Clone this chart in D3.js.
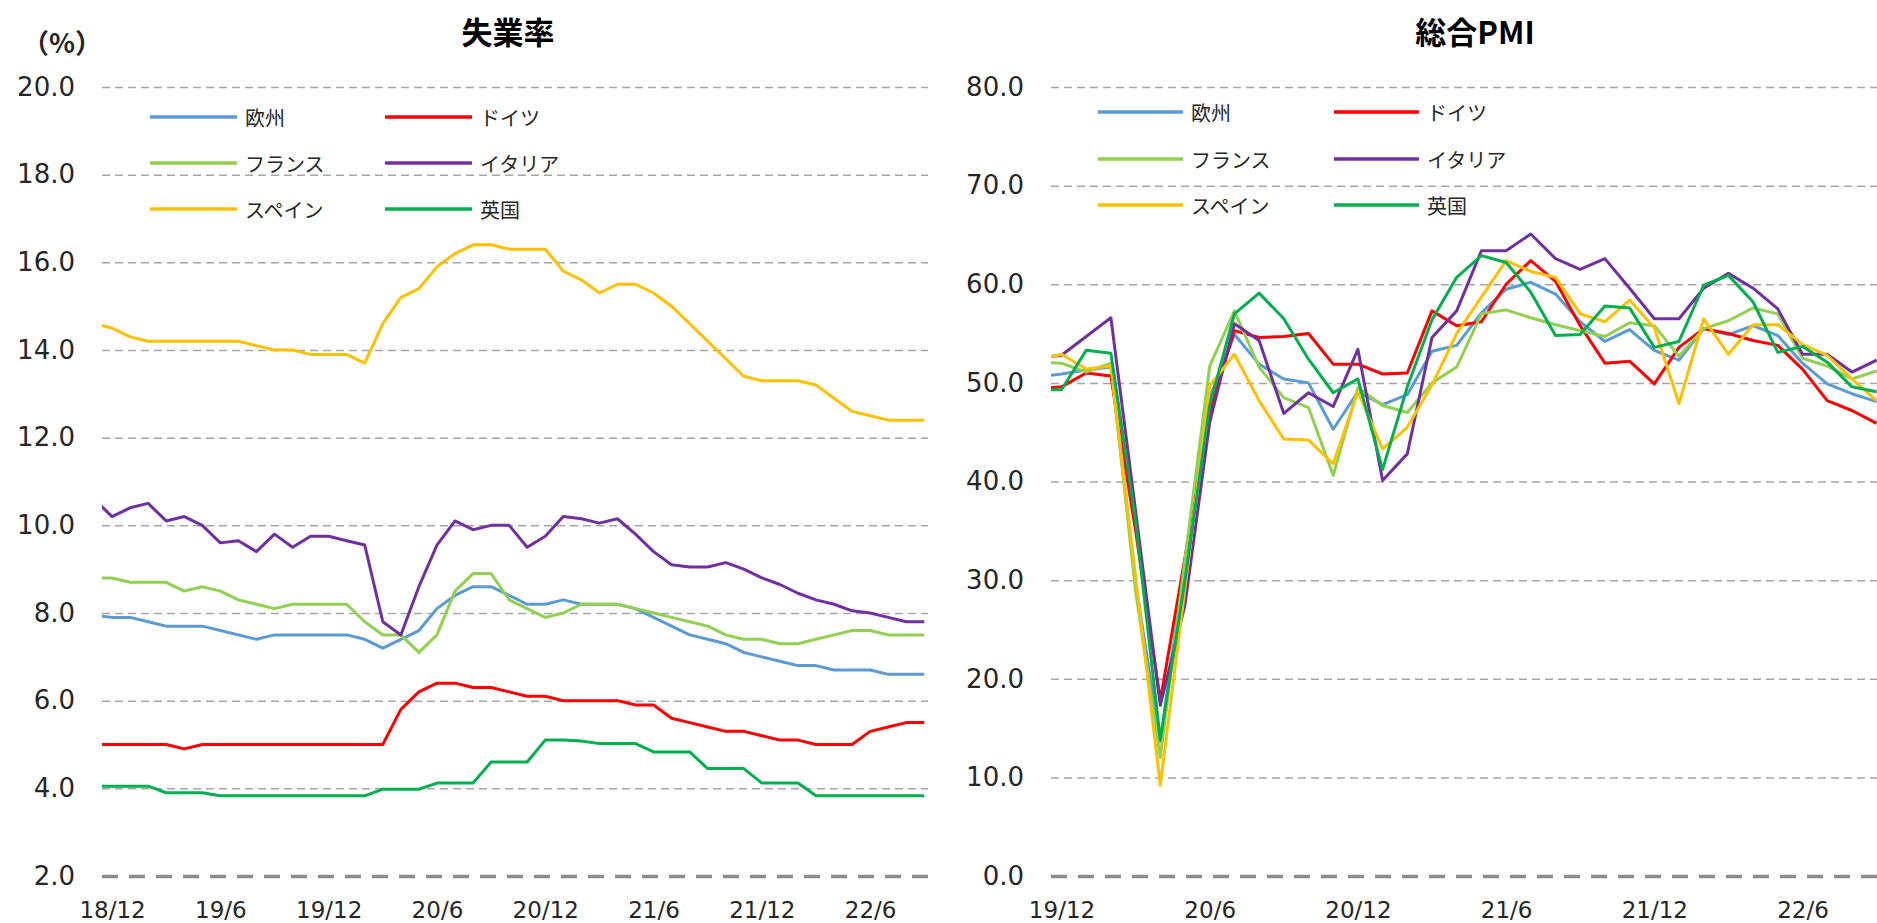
<!DOCTYPE html>
<html>
<head>
<meta charset="utf-8">
<script src="https://cdn.jsdelivr.net/npm/d3@7"></script>
<style>
body{margin:0;background:#fff;}
svg{display:block;}
</style>
</head>
<body>
<svg id="chart" width="1877" height="923"></svg>
<script>
// ---------------- data ----------------
const seriesNames  = ["欧州","ドイツ","フランス","イタリア","スペイン","英国"];
const seriesColors = ["#5B9BD5","#FF0000","#92D050","#7030A0","#FFC000","#00B050"];

// 失業率 (monthly, 18/11 .. 22/9)
const unempMonths = ["18/11","18/12",
 "19/1","19/2","19/3","19/4","19/5","19/6","19/7","19/8","19/9","19/10","19/11","19/12",
 "20/1","20/2","20/3","20/4","20/5","20/6","20/7","20/8","20/9","20/10","20/11","20/12",
 "21/1","21/2","21/3","21/4","21/5","21/6","21/7","21/8","21/9","21/10","21/11","21/12",
 "22/1","22/2","22/3","22/4","22/5","22/6","22/7","22/8","22/9"];
const unempEU = [7.95,7.9,7.9,7.8,7.7,7.7,7.7,7.6,7.5,7.4,7.5,7.5,7.5,7.5,7.5,7.4,7.2,7.4,7.6,8.1,8.4,
 8.6,8.6,8.4,8.2,8.2,8.3,8.2,8.2,8.2,8.1,7.9,7.7,7.5,7.4,7.3,7.1,7.0,6.9,6.8,6.8,6.7,6.7,6.7,6.6,6.6,6.6];
const unempDE = [5.0,5.0,5.0,5.0,5.0,4.9,5.0,5.0,5.0,5.0,5.0,5.0,5.0,5.0,5.0,5.0,5.0,5.8,6.2,6.4,6.4,
 6.3,6.3,6.2,6.1,6.1,6.0,6.0,6.0,6.0,5.9,5.9,5.6,5.5,5.4,5.3,5.3,5.2,5.1,5.1,5.0,5.0,5.0,5.3,5.4,5.5,5.5];
const unempFR = [8.8,8.8,8.7,8.7,8.7,8.5,8.6,8.5,8.3,8.2,8.1,8.2,8.2,8.2,8.2,7.8,7.5,7.5,7.1,7.5,8.5,
 8.9,8.9,8.3,8.1,7.9,8.0,8.2,8.2,8.2,8.1,8.0,7.9,7.8,7.7,7.5,7.4,7.4,7.3,7.3,7.4,7.5,7.6,7.6,7.5,7.5,7.5];
const unempIT = [10.6,10.2,10.4,10.5,10.1,10.2,10.0,9.6,9.65,9.4,9.8,9.5,9.75,9.75,9.65,9.55,7.8,7.5,8.6,9.55,10.1,
 9.9,10.0,10.0,9.5,9.75,10.2,10.15,10.05,10.15,9.8,9.4,9.1,9.05,9.05,9.15,9.0,8.8,8.65,8.45,8.3,8.2,8.05,8.0,7.9,7.8,7.8];
const unempES = [14.6,14.5,14.3,14.2,14.2,14.2,14.2,14.2,14.2,14.1,14.0,14.0,13.9,13.9,13.9,13.7,14.6,15.2,15.4,15.9,16.2,
 16.4,16.4,16.3,16.3,16.3,15.8,15.6,15.3,15.5,15.5,15.3,15.0,14.6,14.2,13.8,13.4,13.3,13.3,13.3,13.2,12.9,12.6,12.5,12.4,12.4,12.4];
const unempUK = [4.05,4.05,4.05,4.05,3.9,3.9,3.9,3.83,3.83,3.83,3.83,3.83,3.83,3.83,3.83,3.83,3.98,3.98,3.98,4.12,4.12,
 4.12,4.6,4.6,4.6,5.1,5.1,5.08,5.02,5.02,5.02,4.83,4.83,4.83,4.45,4.45,4.45,4.12,4.12,4.12,3.83,3.83,3.83,3.83,3.83,3.83,3.83];
const unempTicks = [2,4,6,8,10,12,14,16,18,20];
const unempTickLabels = ["18/12","19/6","19/12","20/6","20/12","21/6","21/12","22/6"];

// 総合PMI (monthly, 19/11 .. 22/9)
const pmiMonths = ["19/11","19/12",
 "20/1","20/2","20/3","20/4","20/5","20/6","20/7","20/8","20/9","20/10","20/11","20/12",
 "21/1","21/2","21/3","21/4","21/5","21/6","21/7","21/8","21/9","21/10","21/11","21/12",
 "22/1","22/2","22/3","22/4","22/5","22/6","22/7","22/8","22/9"];
const pmiEU = [50.6,50.9,51.3,51.6,29.7,13.6,31.9,48.5,54.9,51.9,50.4,50.0,45.3,49.1,47.8,48.8,53.2,53.8,57.1,59.5,60.2,
 59.0,56.2,54.2,55.4,53.3,52.3,55.5,54.9,55.8,54.8,52.0,49.9,48.9,48.1];
const pmiDE = [49.4,49.6,51.0,50.7,35.0,17.8,32.3,47.0,55.3,54.6,54.7,55.0,51.9,51.9,50.9,51.0,57.3,55.8,56.2,60.0,62.4,
 60.3,55.8,52.0,52.2,49.9,53.6,55.5,55.0,54.3,53.8,51.4,48.2,47.2,45.9];
const pmiFR = [52.1,52.0,51.1,52.0,28.9,12.0,32.1,51.7,57.3,51.6,48.5,47.5,40.6,49.5,47.7,47.0,50.0,51.6,57.0,57.4,56.6,
 55.9,55.3,54.7,56.1,55.8,52.7,55.5,56.3,57.6,57.0,52.5,51.7,50.4,51.2];
const pmiIT = [52.5,52.8,54.7,56.6,37.0,17.3,27.5,46.0,56.0,54.3,46.9,49.0,47.6,53.4,40.1,42.8,54.6,57.3,63.4,63.4,65.1,
 62.6,61.5,62.6,59.6,56.5,56.5,59.6,61.1,59.6,57.5,52.9,52.9,51.1,52.3];
const pmiES = [52.3,52.9,51.4,51.7,30.4,9.2,29.2,49.7,52.9,48.2,44.3,44.2,41.8,49.1,43.3,45.5,49.8,55.0,58.7,62.4,61.3,
 60.7,57.0,56.2,58.4,55.6,47.9,56.5,52.9,55.9,55.9,53.9,52.8,50.4,48.2];
const pmiUK = [49.3,49.3,53.3,53.0,36.0,13.8,30.0,47.7,57.0,59.1,56.5,52.4,49.0,50.4,41.2,49.6,56.4,60.7,62.9,62.2,59.2,
 54.8,54.9,57.8,57.6,53.6,54.2,59.9,60.9,58.2,53.1,53.7,52.1,49.6,49.1];
const pmiTicks = [0,10,20,30,40,50,60,70,80];
const pmiTickLabels = ["19/12","20/6","20/12","21/6","21/12","22/6"];

// ---------------- drawing ----------------
const svg = d3.select("#chart");
const numFont = "'DejaVu Sans', Verdana, sans-serif";
const jpFont = "'Noto Sans CJK JP', 'Noto Sans', sans-serif";

function drawPanel(cfg) {
  const g = svg.append("g");
  const x = d3.scalePoint().domain(cfg.months).range(cfg.pointRange);
  const y = d3.scaleLinear().domain(cfg.yDomain).range([876, 87]);
  const left = cfg.plotX[0], right = cfg.plotX[1];

  // y axis with dashed gridlines
  const yAxis = g.append("g")
    .attr("transform", `translate(${left},0)`)
    .call(d3.axisLeft(y).tickValues(cfg.yTicks).tickFormat(d3.format(".1f"))
      .tickSize(-(right - left)).tickPadding(27));
  yAxis.select(".domain").remove();
  yAxis.selectAll(".tick line")
    .attr("stroke", "#a6a6a6").attr("stroke-width", 1.5).attr("stroke-dasharray", "8,5");
  yAxis.selectAll(".tick").filter(d => d === cfg.yDomain[0]).select("line")
    .attr("stroke", "#8c8c8c").attr("stroke-width", 3.5).attr("stroke-dasharray", "16,11");
  yAxis.selectAll(".tick text")
    .attr("fill", "#262626").style("font-family", numFont).style("font-size", "26px");

  // x axis labels
  const xAxis = g.append("g")
    .attr("transform", `translate(0,876)`)
    .call(d3.axisBottom(x).tickValues(cfg.tickLabels).tickSize(0).tickPadding(26));
  xAxis.select(".domain").remove();
  xAxis.selectAll(".tick text")
    .attr("fill", "#262626").style("font-family", numFont).style("font-size", "23px");

  // clip
  const clipId = "clip" + cfg.id;
  svg.append("clipPath").attr("id", clipId).append("rect")
    .attr("x", left).attr("y", 0).attr("width", right - left).attr("height", 923);

  const line = d3.line().x((d, i) => x(cfg.months[i])).y(d => y(d));
  const lines = g.append("g").attr("clip-path", `url(#${clipId})`);
  cfg.series.forEach((s, k) => {
    lines.append("path").datum(s)
      .attr("fill", "none").attr("stroke", seriesColors[k])
      .attr("stroke-width", 3).attr("stroke-linejoin", "round")
      .attr("d", line);
  });

  // title
  g.append("text").attr("x", cfg.titleX).attr("y", 44).attr("text-anchor", "middle")
    .style("font-family", jpFont).style("font-size", "31px").style("font-weight", "bold")
    .attr("fill", "#000").text(cfg.title);

  // legend
  const lg = g.append("g");
  seriesNames.forEach((name, k) => {
    const col = k % 2, row = Math.floor(k / 2);
    const lx = cfg.legend.x[col], ly = cfg.legend.y[row];
    lg.append("line").attr("x1", lx).attr("x2", lx + cfg.legend.len)
      .attr("y1", ly).attr("y2", ly)
      .attr("stroke", seriesColors[k]).attr("stroke-width", 3.5);
    lg.append("text").attr("x", lx + cfg.legend.len + 8).attr("y", ly)
      .attr("dominant-baseline", "central")
      .style("font-family", jpFont).style("font-size", "20px").attr("fill", "#262626")
      .text(name);
  });
  return g;
}

drawPanel({
  id: "L", months: unempMonths, pointRange: [94, 924.3], plotX: [102, 928],
  yDomain: [2, 20], yTicks: unempTicks, tickLabels: unempTickLabels,
  series: [unempEU, unempDE, unempFR, unempIT, unempES, unempUK],
  title: "失業率", titleX: 508,
  legend: {x: [150, 385], y: [117, 163, 209], len: 87}
});

drawPanel({
  id: "R", months: pmiMonths, pointRange: [1036.8, 1876.6], plotX: [1051, 1877],
  yDomain: [0, 80], yTicks: pmiTicks, tickLabels: pmiTickLabels,
  series: [pmiEU, pmiDE, pmiFR, pmiIT, pmiES, pmiUK],
  title: "総合PMI", titleX: 1475,
  legend: {x: [1098, 1334], y: [112, 159, 205], len: 85}
});

svg.append("text").attr("x", 22).attr("y", 53)
  .style("font-family", jpFont).style("font-size", "27px").style("font-weight", "bold")
  .attr("fill", "#262626")
  .text("（%）");
</script>
</body>
</html>
